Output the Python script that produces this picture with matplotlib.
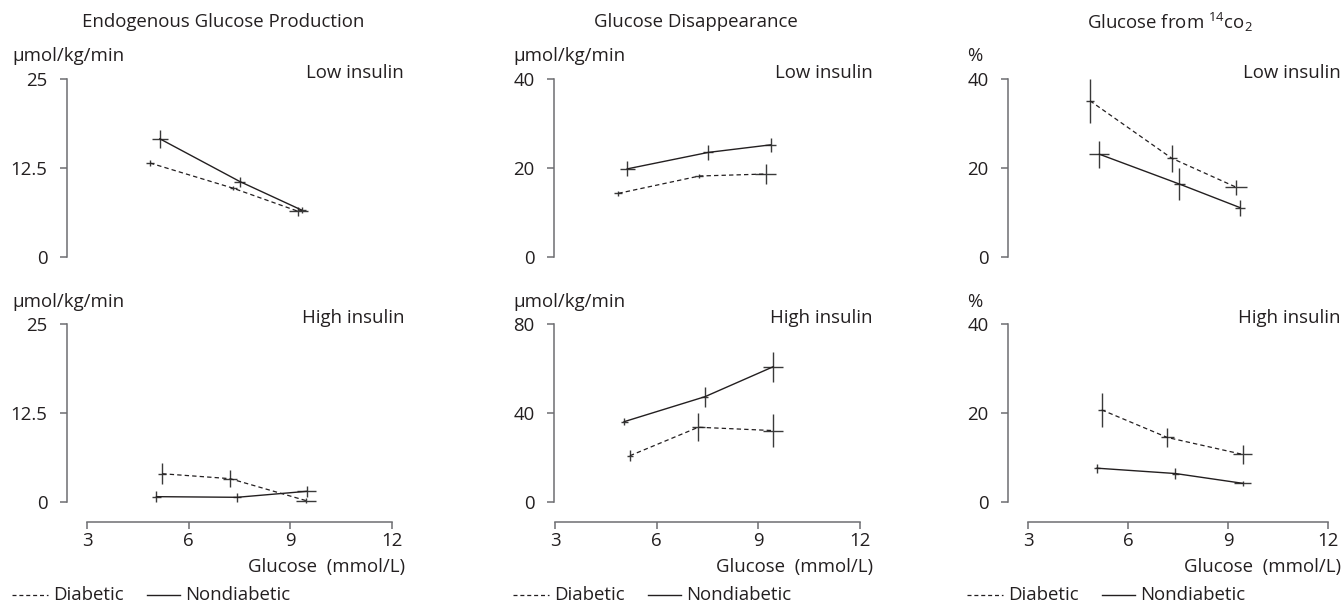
import matplotlib
matplotlib.use("Agg")
import matplotlib.pyplot as plt

plt.rcParams['font.family'] = ['Open Sans', 'DejaVu Sans']
plt.rcParams['mathtext.fontset'] = 'custom'
plt.rcParams['mathtext.rm'] = 'Open Sans'
plt.rcParams['mathtext.it'] = 'Open Sans'
plt.rcParams['mathtext.default'] = 'regular'

# ---------------- data ----------------
# Endogenous Glucose Production (µmol/kg/min)
egp_low_dia_x = [4.86, 7.32, 9.24]
egp_low_dia_y = [13.2, 9.65, 6.4]
egp_low_dia_xe = [0.11, 0.1, 0.27]
egp_low_dia_ye = [0.45, 0.3, 0.6]
egp_low_non_x = [5.15, 7.51, 9.33]
egp_low_non_y = [16.6, 10.6, 6.6]
egp_low_non_xe = [0.24, 0.16, 0.12]
egp_low_non_ye = [1.3, 0.7, 0.4]

egp_high_dia_x = [5.22, 7.22, 9.46]
egp_high_dia_y = [3.97, 3.28, 0.2]
egp_high_dia_xe = [0.12, 0.2, 0.29]
egp_high_dia_ye = [1.5, 1.2, 0.3]
egp_high_non_x = [5.05, 7.43, 9.48]
egp_high_non_y = [0.75, 0.66, 1.5]
egp_high_non_xe = [0.12, 0.12, 0.27]
egp_high_non_ye = [0.77, 0.6, 0.8]

# Glucose Disappearance (µmol/kg/min)
gd_low_dia_x = [4.87, 7.26, 9.22]
gd_low_dia_y = [14.3, 18.2, 18.65]
gd_low_dia_xe = [0.12, 0.12, 0.31]
gd_low_dia_ye = [0.5, 0.5, 2.25]
gd_low_non_x = [5.13, 7.52, 9.36]
gd_low_non_y = [19.8, 23.5, 25.2]
gd_low_non_xe = [0.22, 0.15, 0.15]
gd_low_non_ye = [1.7, 1.75, 1.6]

gd_high_dia_x = [5.21, 7.23, 9.44]
gd_high_dia_y = [20.8, 33.6, 32.1]
gd_high_dia_xe = [0.1, 0.2, 0.3]
gd_high_dia_ye = [2.5, 6.4, 7.6]
gd_high_non_x = [5.04, 7.42, 9.44]
gd_high_non_y = [36.1, 47.3, 60.8]
gd_high_non_xe = [0.1, 0.1, 0.3]
gd_high_non_ye = [1.5, 4.5, 6.7]

# Glucose from 14CO2 (%)
co_low_dia_x = [4.86, 7.31, 9.24]
co_low_dia_y = [35.1, 22.2, 15.7]
co_low_dia_xe = [0.13, 0.15, 0.33]
co_low_dia_ye = [5.0, 3.0, 1.7]
co_low_non_x = [5.14, 7.54, 9.36]
co_low_non_y = [23.1, 16.4, 11.1]
co_low_non_xe = [0.3, 0.17, 0.15]
co_low_non_ye = [3.0, 3.5, 1.8]

co_high_dia_x = [5.21, 7.18, 9.44]
co_high_dia_y = [20.7, 14.5, 10.7]
co_high_dia_xe = [0.1, 0.2, 0.29]
co_high_dia_ye = [3.9, 2.2, 2.1]
co_high_non_x = [5.07, 7.42, 9.44]
co_high_non_y = [7.6, 6.4, 4.2]
co_high_non_xe = [0.1, 0.1, 0.25]
co_high_non_ye = [1.0, 1.2, 0.5]

col_titles = ["Endogenous Glucose Production", "Glucose Disappearance",
              r"Glucose from $^{14}$co$_{2}$"]
unit_labels = ["µmol/kg/min", "µmol/kg/min", "%"]
row_labels = ["Low insulin", "High insulin"]
xticks = [3, 6, 9, 12]
yticks_top = [[0, 12.5, 25], [0, 20, 40], [0, 20, 40]]
yticks_bottom = [[0, 12.5, 25], [0, 40, 80], [0, 20, 40]]
ytick_labels_top = [["0", "12.5", "25"], ["0", "20", "40"], ["0", "20", "40"]]
ytick_labels_bottom = [["0", "12.5", "25"], ["0", "40", "80"], ["0", "20", "40"]]
xlabel = "Glucose  (mmol/L)"
legend_labels = ["Diabetic", "Nondiabetic"]

panels = [
    [(egp_low_dia_x, egp_low_dia_y, egp_low_dia_xe, egp_low_dia_ye,
      egp_low_non_x, egp_low_non_y, egp_low_non_xe, egp_low_non_ye),
     (egp_high_dia_x, egp_high_dia_y, egp_high_dia_xe, egp_high_dia_ye,
      egp_high_non_x, egp_high_non_y, egp_high_non_xe, egp_high_non_ye)],
    [(gd_low_dia_x, gd_low_dia_y, gd_low_dia_xe, gd_low_dia_ye,
      gd_low_non_x, gd_low_non_y, gd_low_non_xe, gd_low_non_ye),
     (gd_high_dia_x, gd_high_dia_y, gd_high_dia_xe, gd_high_dia_ye,
      gd_high_non_x, gd_high_non_y, gd_high_non_xe, gd_high_non_ye)],
    [(co_low_dia_x, co_low_dia_y, co_low_dia_xe, co_low_dia_ye,
      co_low_non_x, co_low_non_y, co_low_non_xe, co_low_non_ye),
     (co_high_dia_x, co_high_dia_y, co_high_dia_xe, co_high_dia_ye,
      co_high_non_x, co_high_non_y, co_high_non_xe, co_high_non_ye)],
]

# ---------------- layout (pixels) ----------------
W, H = 1343, 605
DPI = 100
fig = plt.figure(figsize=(W / DPI, H / DPI), dpi=DPI)

col_x = [(87, 392), (555, 860), (1028, 1328)]
yspine_off = [20, 1, 20]          # px left of x=3
row_y = [(79, 257), (324, 502)]
xspine_off = 20
title_cx = [223, 696, 1170]
unit_x = [12, 513, 967]
rlabel_right = [404, 873, 1341]
legend_x0 = [12, 513, 967]

TXT = '#231f20'
SP = '#6d6e71'
FS = 13.4
px2pt = 72.0 / DPI

def fx(px):
    return px / W

def fy(py):
    return 1 - py / H

for c in range(3):
    for r in range(2):
        x0, x1 = col_x[c]
        y0, y1 = row_y[r]
        ax = fig.add_axes([fx(x0), fy(y1), fx(x1 - x0), (y1 - y0) / H])
        ax.set_xlim(3, 12)
        ticks = yticks_top[c] if r == 0 else yticks_bottom[c]
        tlabels = ytick_labels_top[c] if r == 0 else ytick_labels_bottom[c]
        ax.set_ylim(ticks[0], ticks[-1])
        ax.patch.set_visible(False)
        for s in ['top', 'right']:
            ax.spines[s].set_visible(False)
        ax.spines['left'].set_position(('outward', yspine_off[c] * px2pt))
        ax.spines['left'].set_color(SP)
        ax.spines['left'].set_linewidth(1.1)
        ax.set_yticks(ticks)
        ax.set_yticklabels(tlabels)
        ax.tick_params(axis='y', direction='out', length=5, width=1.1,
                       color=SP, labelsize=FS, labelcolor=TXT, pad=9)
        if r == 0:
            ax.spines['bottom'].set_visible(False)
            ax.set_xticks([])
        else:
            ax.spines['bottom'].set_position(('outward', xspine_off * px2pt))
            ax.spines['bottom'].set_color(SP)
            ax.spines['bottom'].set_linewidth(1.1)
            ax.set_xticks(xticks)
            ax.set_xticklabels([str(t) for t in xticks])
            ax.tick_params(axis='x', direction='out', length=5, width=1.1,
                           color=SP, labelsize=FS, labelcolor=TXT, pad=2)

        dx, dy, dxe, dye, nx, ny, nxe, nye = panels[c][r]
        ax.errorbar(dx, dy, xerr=dxe, yerr=dye, color='#231f20',
                    ecolor='#3a3a3a', elinewidth=1.0, linewidth=0.9,
                    linestyle=(0, (3.5, 2.5)), capsize=0, clip_on=False)
        ax.errorbar(nx, ny, xerr=nxe, yerr=nye, color='#231f20',
                    ecolor='#3a3a3a', elinewidth=1.0, linewidth=1.0,
                    linestyle='-', capsize=0, clip_on=False)

        # row label
        ly = 73 if r == 0 else 318
        fig.text(fx(rlabel_right[c]), fy(ly), row_labels[r], ha='right',
                 va='center', fontsize=FS, color=TXT)
        # unit label
        uy = 56 if r == 0 else 302
        fig.text(fx(unit_x[c]), fy(uy), unit_labels[c], ha='left',
                 va='center', fontsize=FS, color=TXT)

    # column title
    fig.text(fx(title_cx[c]), fy(22), col_titles[c], ha='center',
             va='center', fontsize=FS, color=TXT)
    # x label
    fig.text(fx(col_x[c][1] + 13), fy(567), xlabel, ha='right',
             va='center', fontsize=FS, color=TXT)
    # legend
    lx = legend_x0[c]
    ly = 595
    fig.add_artist(plt.Line2D([fx(lx), fx(lx + 36)], [fy(ly), fy(ly)],
                              color=TXT, lw=0.9, linestyle=(0, (3.2, 2.3))))
    fig.text(fx(lx + 41), fy(ly), legend_labels[0], ha='left', va='center',
             fontsize=FS, color=TXT)
    fig.add_artist(plt.Line2D([fx(lx + 135), fx(lx + 168)], [fy(ly), fy(ly)],
                              color=TXT, lw=1.0))
    fig.text(fx(lx + 173), fy(ly), legend_labels[1], ha='left', va='center',
             fontsize=FS, color=TXT)

fig.savefig("out.png", dpi=DPI)
